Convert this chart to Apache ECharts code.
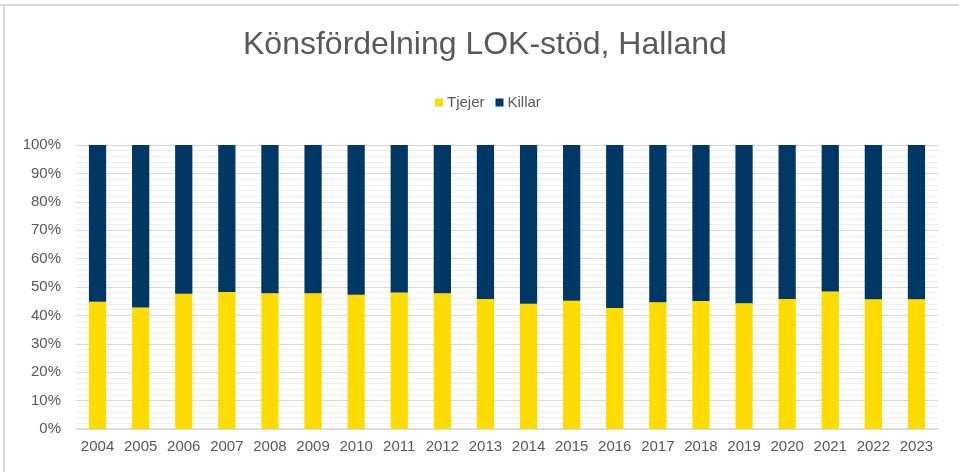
<!DOCTYPE html>
<html>
<head>
<meta charset="utf-8">
<script src="https://cdn.jsdelivr.net/npm/echarts@6/dist/echarts.min.js"></script>
<style>
html,body{margin:0;padding:0;background:#fff;}
#chart{width:959px;height:472px;}
</style>
</head>
<body>
<div id="chart"></div>
<script>
var years = ['2004','2005','2006','2007','2008','2009','2010','2011','2012','2013','2014','2015','2016','2017','2018','2019','2020','2021','2022','2023'];
var tjejer = [44.8,42.8,47.6,48.2,47.8,47.8,47.3,48.1,47.8,45.8,44.1,45.2,42.6,44.6,45.1,44.3,45.8,48.4,45.7,45.7];
var killar = tjejer.map(function(v){ return +(100 - v).toFixed(1); });
var yTicks = [0,10,20,30,40,50,60,70,80,90,100];

var chart = echarts.init(document.getElementById('chart'), null, {renderer:'canvas'});
var font = '"Liberation Sans", Arial, sans-serif';
chart.setOption({
  animation:false,
  backgroundColor:'#fff',
  title:{
    text:'Könsfördelning LOK-stöd, Halland',
    left:238, top:24,
    textStyle:{fontFamily:font, fontSize:32, fontWeight:'normal', color:'#595959'}
  },
  legend:{
    top:90, left:430,
    itemWidth:8, itemHeight:8, itemGap:11, icon:'rect',
    textStyle:{fontFamily:font, fontSize:15, color:'#595959', padding:[0,0,0,-1]},
    data:['Tjejer','Killar']
  },
  grid:{left:76, right:21, top:145, bottom:43, containLabel:false},
  xAxis:{
    type:'category', data:years,
    axisLine:{lineStyle:{color:'#d9d9d9', width:1.5}},
    axisTick:{show:false},
    axisLabel:{fontFamily:font, fontSize:15, color:'#595959', margin:10, interval:0, hideOverlap:false}
  },
  yAxis:{
    type:'value', min:0, max:100, interval:10,
    axisLine:{show:false}, axisTick:{show:false},
    axisLabel:{fontFamily:font, fontSize:15, color:'#595959', margin:15,
      formatter:function(v){ return yTicks.indexOf(v) >= 0 ? v + '%' : ''; }},
    splitLine:{lineStyle:{color:'#d9d9d9', width:1}},
    minorTick:{show:false, splitNumber:5},
    minorSplitLine:{show:true, lineStyle:{color:'#efefef', width:1}}
  },
  series:[
    {name:'Tjejer', type:'bar', stack:'a', data:tjejer, barCategoryGap:'60%',
      itemStyle:{color:'#FFDC00'}},
    {name:'Killar', type:'bar', stack:'a', data:killar, barCategoryGap:'60%',
      itemStyle:{color:'#003865'}}
  ],
  graphic:[
    {type:'rect', shape:{x:0, y:4, width:959, height:2}, style:{fill:'#d9d9d9'}, silent:true},
    {type:'rect', shape:{x:3, y:4, width:2, height:468}, style:{fill:'#d9d9d9'}, silent:true}
  ]
});
</script>
</body>
</html>
